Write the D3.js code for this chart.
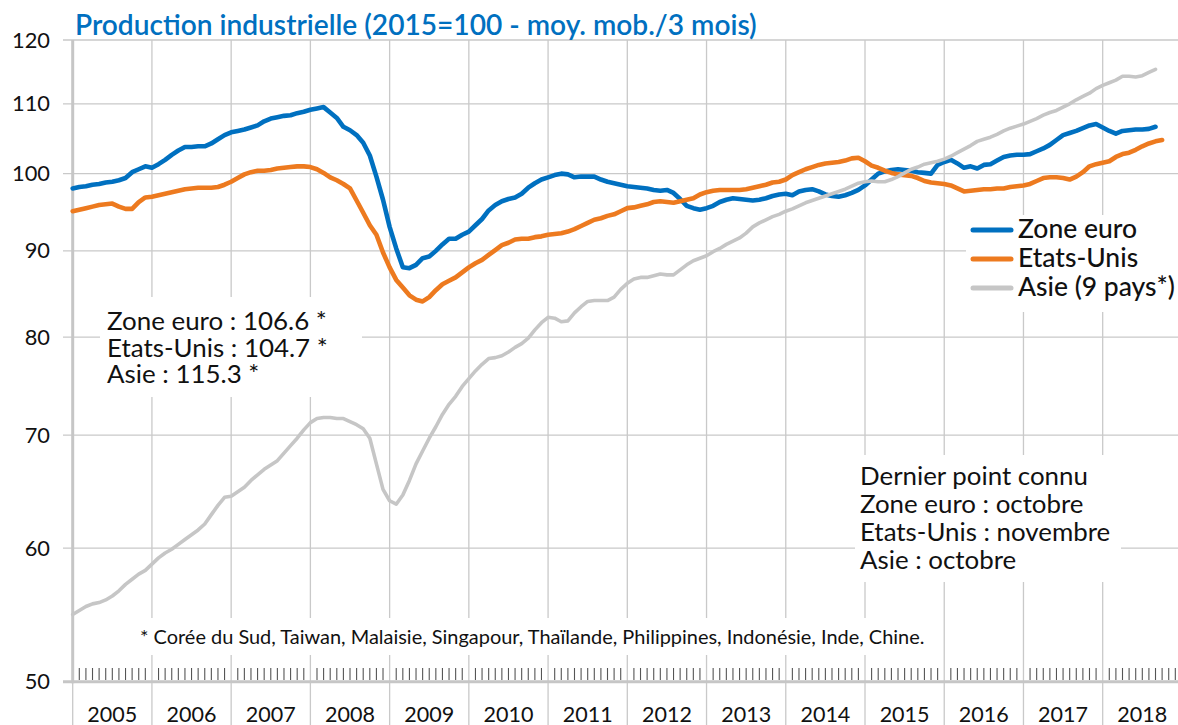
<!DOCTYPE html>
<html>
<head>
<meta charset="utf-8">
<script src="https://cdn.jsdelivr.net/npm/d3@7"></script>
<style>
  body { margin: 0; background: #fff; }
  svg text { font-family: Lato, "Open Sans", sans-serif; fill: #111; }
</style>
</head>
<body>
<svg id="chart" width="1178" height="725"></svg>
<script>
// monthly values, first point = January 2005
const zoneEuro = [
  98.0, 98.2, 98.3, 98.5, 98.6, 98.8, 98.9, 99.1, 99.4, 100.2, 100.6, 101.0,
  100.8, 101.3, 101.9, 102.6, 103.2, 103.7, 103.7, 103.8, 103.8, 104.2, 104.8, 105.4,
  105.8, 106.0, 106.2, 106.5, 106.8, 107.4, 107.8, 108.0, 108.2, 108.3, 108.6, 108.8,
  109.1, 109.3, 109.5, 108.7, 107.9, 106.6, 106.1, 105.4, 104.3, 102.5, 99.6, 96.5,
  93.0, 90.3, 88.0, 87.9, 88.3, 89.1, 89.3, 90.0, 90.8, 91.5, 91.5, 92.0,
  92.4, 93.2, 94.0, 95.1, 95.8, 96.3, 96.6, 96.8, 97.3, 98.1, 98.7, 99.2,
  99.5, 99.8, 100.0, 99.9, 99.5, 99.6, 99.6, 99.6, 99.2, 98.9, 98.7, 98.5,
  98.3, 98.2, 98.1, 98.0, 97.8, 97.7, 97.8, 97.4, 96.6, 95.7, 95.4, 95.2,
  95.4, 95.7, 96.2, 96.5, 96.7, 96.6, 96.5, 96.4, 96.5, 96.7, 97.0, 97.2,
  97.3, 97.1, 97.6, 97.8, 97.9, 97.6, 97.2, 97.0, 96.9, 97.1, 97.4, 97.8,
  98.4, 99.2, 100.0, 100.3, 100.5, 100.6, 100.5, 100.4, 100.2, 100.1, 100.0, 101.2,
  101.6, 101.9, 101.4, 100.8, 101.0, 100.7, 101.2, 101.3, 101.8, 102.3, 102.5, 102.6,
  102.6, 102.7, 103.1, 103.5, 104.0, 104.7, 105.4, 105.7, 106.0, 106.4, 106.8, 107.0,
  106.5, 106.0, 105.6, 106.0, 106.1, 106.2, 106.2, 106.3, 106.6
];
const etatsUnis = [
  95.0, 95.2, 95.4, 95.6, 95.8, 95.9, 96.0, 95.6, 95.3, 95.3, 96.2, 96.8,
  96.9, 97.1, 97.3, 97.5, 97.7, 97.9, 98.0, 98.1, 98.1, 98.1, 98.2, 98.5,
  98.9, 99.4, 99.9, 100.2, 100.4, 100.4, 100.5, 100.7, 100.8, 100.9, 101.0, 101.0,
  100.9, 100.6, 100.1, 99.5, 99.1, 98.6, 98.0, 96.4, 94.8, 93.2, 92.0, 89.8,
  88.0, 86.5, 85.6, 84.7, 84.2, 84.0, 84.5, 85.3, 86.0, 86.4, 86.8, 87.4,
  88.0, 88.5, 88.9, 89.5, 90.1, 90.7, 91.0, 91.4, 91.5, 91.5, 91.7, 91.8,
  92.0, 92.1, 92.2, 92.4, 92.7, 93.1, 93.5, 93.9, 94.1, 94.4, 94.6, 95.0,
  95.4, 95.5, 95.7, 95.9, 96.2, 96.3, 96.2, 96.1, 96.3, 96.5, 96.7, 97.2,
  97.5, 97.7, 97.8, 97.8, 97.8, 97.8, 97.9, 98.1, 98.3, 98.5, 98.8, 98.9,
  99.2, 99.8, 100.2, 100.6, 100.9, 101.2, 101.4, 101.5, 101.6, 101.8, 102.1, 102.2,
  101.7, 101.1, 100.8, 100.4, 100.1, 99.9, 99.8, 99.7, 99.4, 99.0, 98.8, 98.7,
  98.6, 98.4, 98.0, 97.6, 97.7, 97.8, 97.9, 97.9, 98.0, 98.0, 98.2, 98.3,
  98.4, 98.6, 99.0, 99.4, 99.5, 99.5, 99.4, 99.2, 99.6, 100.2, 101.0, 101.3,
  101.5, 101.7, 102.3, 102.7, 102.9, 103.3, 103.8, 104.2, 104.5, 104.7
];
const asie = [
  54.8, 55.1, 55.4, 55.6, 55.7, 55.9, 56.2, 56.6, 57.1, 57.5, 57.9, 58.2,
  58.7, 59.2, 59.6, 59.9, 60.3, 60.7, 61.1, 61.5, 62.0, 62.8, 63.6, 64.3,
  64.4, 64.8, 65.2, 65.8, 66.3, 66.8, 67.2, 67.6, 68.3, 69.0, 69.7, 70.5,
  71.2, 71.6, 71.7, 71.7, 71.6, 71.6, 71.3, 71.0, 70.6, 69.7, 67.3, 65.0,
  64.0, 63.7, 64.5, 65.8, 67.3, 68.5, 69.7, 70.8, 72.0, 73.0, 73.8, 74.8,
  75.6, 76.4, 77.1, 77.7, 77.8, 78.0, 78.4, 78.9, 79.3, 79.9, 80.8, 81.6,
  82.2, 82.1, 81.7, 81.8, 82.7, 83.4, 84.0, 84.1, 84.1, 84.1, 84.5, 85.4,
  86.1, 86.6, 86.8, 86.8, 87.0, 87.2, 87.1, 87.1, 87.7, 88.3, 88.8, 89.1,
  89.4, 89.9, 90.3, 90.8, 91.2, 91.6, 92.2, 93.0, 93.5, 93.9, 94.3, 94.6,
  95.0, 95.3, 95.7, 96.1, 96.4, 96.7, 97.0, 97.3, 97.6, 97.9, 98.3, 98.7,
  98.9, 99.0, 98.9, 98.9, 99.2, 99.6, 100.1, 100.6, 100.9, 101.3, 101.5, 101.7,
  102.0, 102.4, 102.9, 103.4, 103.9, 104.5, 104.8, 105.1, 105.5, 106.0, 106.4, 106.7,
  107.0, 107.4, 107.8, 108.3, 108.7, 109.0, 109.5, 110.0, 110.6, 111.1, 111.6, 112.3,
  112.8, 113.2, 113.6, 114.2, 114.2, 114.1, 114.3, 114.8, 115.3
];

const years = [2005, 2006, 2007, 2008, 2009, 2010, 2011, 2012, 2013, 2014, 2015, 2016, 2017, 2018];
const yTicks = [50, 60, 70, 80, 90, 100, 110, 120];
const seriesNames = ['Zone euro', 'Etats-Unis', 'Asie (9 pays*)'];
const seriesColors = ['#0070C0', '#ED7A1F', '#C6C6C6'];
const lastValues = ['Zone euro : 106.6 *', 'Etats-Unis : 104.7 *', 'Asie : 115.3 *'];
const lastKnown = ['Dernier point connu', 'Zone euro : octobre', 'Etats-Unis : novembre', 'Asie : octobre'];
const title = 'Production industrielle (2015=100 - moy. mob./3 mois)';
const footnote = '* Corée du Sud, Taiwan, Malaisie, Singapour, Thaïlande, Philippines, Indonésie, Inde, Chine.';

const svg = d3.select('#chart');
const nMonths = years.length * 12;

// x: month index from Jan 2005, y: log scale
const x = d3.scaleLinear().domain([0, nMonths]).range([72.7, 72.7 + 79.23 * years.length]);
const y = d3.scaleLog().domain([50, 120]).range([681.7, 40]);

const grid = svg.append('g').attr('class', 'grid');
const gridColor = '#c9c9c9';

// horizontal grid lines
grid.selectAll('line.h')
  .data(yTicks.filter(function (v) { return v !== 50; }))
  .enter()
  .append('line')
  .attr('class', 'h')
  .attr('x1', 63).attr('x2', 1178)
  .attr('y1', function (d) { return y(d); })
  .attr('y2', function (d) { return y(d); })
  .attr('stroke', gridColor)
  .attr('stroke-width', 1.3);

// vertical year lines (run down through the year labels)
grid.selectAll('line.v')
  .data(d3.range(1, years.length + 1))
  .enter()
  .append('line')
  .attr('class', 'v')
  .attr('x1', function (d) { return x(d * 12); })
  .attr('x2', function (d) { return x(d * 12); })
  .attr('y1', y(120)).attr('y2', 725)
  .attr('stroke', gridColor)
  .attr('stroke-width', 1.3);

grid.append('line')
  .attr('x1', x(0)).attr('x2', x(0))
  .attr('y1', y(50)).attr('y2', 725)
  .attr('stroke', gridColor)
  .attr('stroke-width', 1.3);

// white boxes behind the annotations hide the grid
function box(x0, y0, w, h) {
  svg.append('rect')
    .attr('x', x0).attr('y', y0)
    .attr('width', w).attr('height', h)
    .attr('fill', '#fff');
}
box(100, 297, 262, 100);
box(966, 215, 212, 97);
box(855, 455, 266, 127);
box(135, 618, 800, 37);

// axes
svg.append('line')
  .attr('x1', 63).attr('x2', 1178)
  .attr('y1', y(50)).attr('y2', y(50))
  .attr('stroke', '#c6c6c6')
  .attr('stroke-width', 3);
svg.append('line')
  .attr('x1', x(0)).attr('x2', x(0))
  .attr('y1', y(120)).attr('y2', y(50) + 1.5)
  .attr('stroke', '#c6c6c6')
  .attr('stroke-width', 3);

// monthly minor ticks
svg.append('g')
  .selectAll('line')
  .data(d3.range(1, nMonths).filter(function (m) { return m % 12 !== 0; }))
  .enter()
  .append('line')
  .attr('x1', function (d) { return x(d); })
  .attr('x2', function (d) { return x(d); })
  .attr('y1', 668).attr('y2', 680)
  .attr('stroke', '#555')
  .attr('stroke-width', 1.1);

// fit a group of texts so that its first one has the wanted width
function fitGroup(g, width) {
  let first = g.select('text');
  let len = first.node().getComputedTextLength();
  let fs = parseFloat(first.attr('font-size'));
  g.selectAll('text').attr('font-size', fs * width / len);
}

// tick labels
const yLab = svg.append('g');
yLab.selectAll('text')
  .data(yTicks.slice().reverse())
  .enter()
  .append('text')
  .attr('x', 50)
  .attr('y', function (d) { return y(d) + 7.5; })
  .attr('text-anchor', 'end')
  .attr('font-size', 21)
  .text(function (d) { return d; });
fitGroup(yLab, 38);

const xLab = svg.append('g');
xLab.selectAll('text')
  .data(years)
  .enter()
  .append('text')
  .attr('x', function (d, i) { return x(i * 12 + 6); })
  .attr('y', 722)
  .attr('text-anchor', 'middle')
  .attr('font-size', 21)
  .text(function (d) { return d; });
fitGroup(xLab, 50);

// series (Zone euro first, Asie drawn last)
const line = d3.line()
  .x(function (d, i) { return x(i); })
  .y(function (d) { return y(d); });

[zoneEuro, etatsUnis, asie].forEach(function (data, i) {
  svg.append('path')
    .datum(data)
    .attr('d', line)
    .attr('fill', 'none')
    .attr('stroke', seriesColors[i])
    .attr('stroke-width', i === 2 ? 3.6 : 4.6)
    .attr('stroke-linejoin', 'round')
    .attr('stroke-linecap', 'round');
});

const titleG = svg.append('g');
titleG.append('text')
  .attr('x', 75).attr('y', 35)
  .attr('font-size', 24)
  .attr('font-weight', 600)
  .style('fill', '#0070C0')
  .text(title);
fitGroup(titleG, 682);

// legend
const legend = svg.append('g');
const legendText = legend.append('g');
seriesNames.forEach(function (name, i) {
  let ly = 230 + i * 29;
  legend.append('line')
    .attr('x1', 973).attr('x2', 1011)
    .attr('y1', ly).attr('y2', ly)
    .attr('stroke', seriesColors[i])
    .attr('stroke-width', 5)
    .attr('stroke-linecap', 'round');
  legendText.append('text')
    .attr('x', 1018).attr('y', ly + 8)
    .attr('font-size', 23)
    .attr('font-weight', 500)
    .text(name);
});
fitGroup(legendText, 119);

function block(lines, x0, y0, step, fs, width) {
  let g = svg.append('g');
  lines.forEach(function (s, i) {
    g.append('text')
      .attr('x', x0).attr('y', y0 + i * step)
      .attr('font-size', fs)
      .text(s);
  });
  fitGroup(g, width);
}

block(lastValues, 107, 330, 26.7, 21, 220);
block(lastKnown, 860, 485, 28, 21, 228);
block([footnote], 140, 644, 0, 17, 785);
</script>
</body>
</html>
